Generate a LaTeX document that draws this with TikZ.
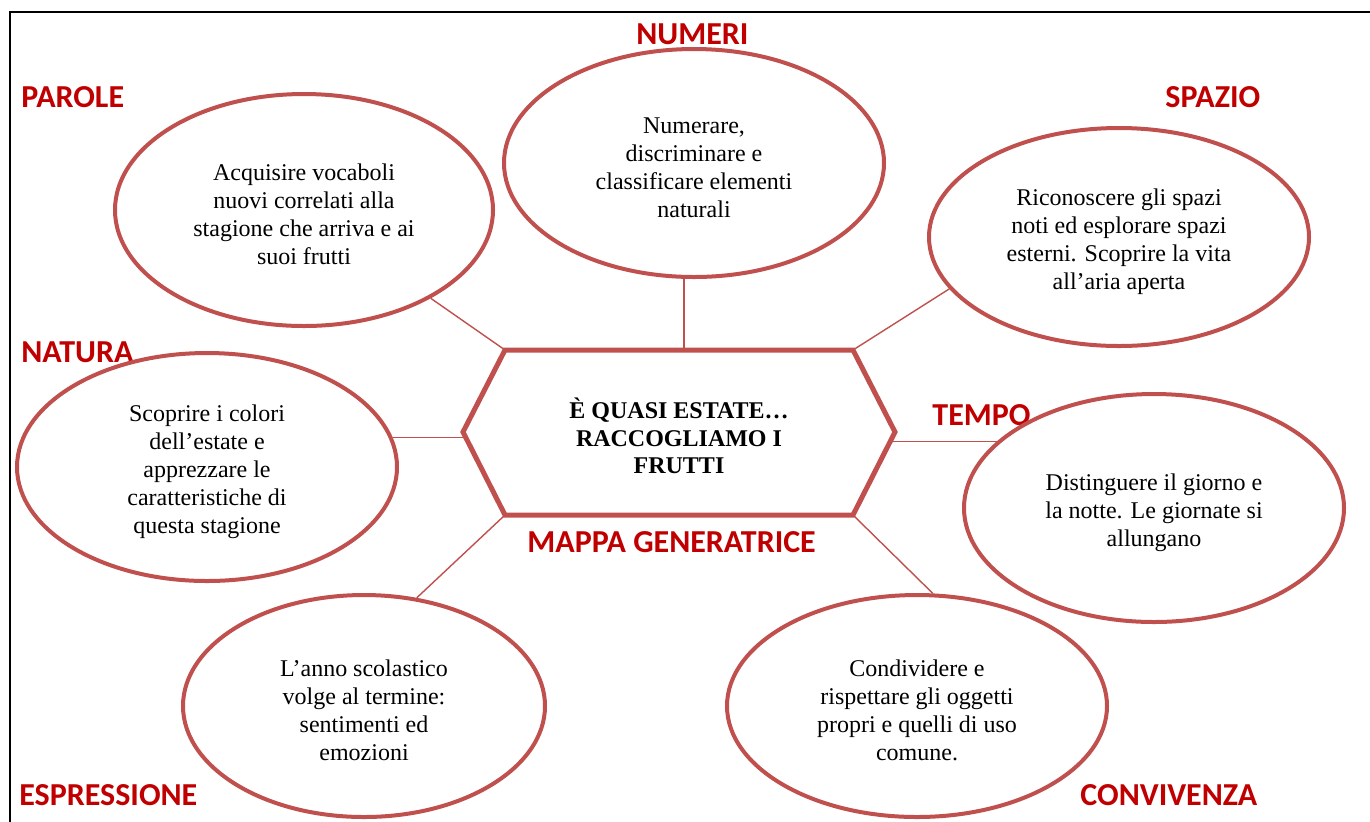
\documentclass[tikz,border=0pt]{standalone}
\usepackage{fontspec}
\setmainfont{Liberation Serif}
\newfontfamily\labelfont{Carlito}
\usetikzlibrary{shapes.geometric}
\definecolor{accent}{HTML}{C0504D}
\definecolor{labelred}{HTML}{C00000}

\begin{document}
\begin{tikzpicture}[x = 0.5pt, y = -0.5pt]
\tikzstyle{BubbleStyle}=[shape = ellipse,
                         draw = accent,
                         line width = 2pt,
                         inner sep = 0pt,
                         align = center,
                         font = \fontsize{12}{14}\selectfont]
\tikzstyle{LabelStyle}=[anchor = base west,
                        inner sep = 0pt,
                        text = labelred,
                        font = \labelfont\bfseries\fontsize{16}{18}\selectfont]
\tikzstyle{EdgeStyle}=[draw = accent, line width = 0.7pt]
\useasboundingbox (0,0) rectangle (1370,821);
\draw[line width = 1pt] (1400,12) -- (10,12) -- (10,850);
\node[LabelStyle] (t0) at (21,107) {PAROLE};
\node[LabelStyle] (t1) at (636,44) {NUMERI};
\node[LabelStyle] (t2) at (1165,107) {SPAZIO};
\node[LabelStyle] (t3) at (21,362) {NATURA};
\node[LabelStyle] (t4) at (932,425) {TEMPO};
\node[LabelStyle] (t5) at (19,805) {ESPRESSIONE};
\node[LabelStyle] (t6) at (1080,805) {CONVIVENZA};
\node[LabelStyle] (t7) at (527,552) {MAPPA GENERATRICE};
\node[BubbleStyle, minimum width = 189pt, minimum height = 116pt] (v0) at (304,210) {\rule{0pt}{13pt}Acquisire vocaboli\\nuovi correlati alla\\stagione che arriva e ai\\suoi frutti};
\node[BubbleStyle, minimum width = 190pt, minimum height = 114pt] (v1) at (694,163) {\rule{0pt}{13pt}Numerare,\\discriminare e\\classificare elementi\\naturali};
\node[BubbleStyle, minimum width = 190pt, minimum height = 109pt] (v2) at (1119,237) {\rule{0pt}{13pt}Riconoscere gli spazi\\noti ed esplorare spazi\\esterni. Scoprire la vita\\all’aria aperta};
\node[BubbleStyle, minimum width = 190pt, minimum height = 114pt] (v3) at (207,467) {\rule{0pt}{13pt}Scoprire i colori\\dell’estate e\\apprezzare le\\caratteristiche di\\questa stagione};
\node[BubbleStyle, minimum width = 190pt, minimum height = 114pt] (v4) at (1154,508) {\rule{0pt}{13pt}Distinguere il giorno e\\la notte. Le giornate si\\allungano};
\node[BubbleStyle, minimum width = 181pt, minimum height = 111pt] (v5) at (364,706) {\rule{0pt}{13pt}L’anno scolastico\\volge al termine:\\sentimenti ed\\emozioni};
\node[BubbleStyle, minimum width = 190pt, minimum height = 111pt] (v6) at (917,706) {\rule{0pt}{13pt}Condividere e\\rispettare gli oggetti\\propri e quelli di uso\\comune.};
\coordinate (h1) at (505,350);
\coordinate (h2) at (853,350);
\coordinate (h3) at (895,432);
\coordinate (h4) at (853,515);
\coordinate (h5) at (505,515);
\coordinate (h6) at (463,432);
\coordinate (ht) at (684,350);
\coordinate (hl) at (466,438);
\coordinate (hr) at (891,442);
\draw[draw = accent, line width = 2.5pt, line join = miter] (h1) -- (h2) -- (h3) -- (h4) -- (h5) -- (h6) -- cycle;
\node[align = center, inner sep = 0pt, font = \bfseries\fontsize{12}{13.8}\selectfont] (c) at (679,436) {È QUASI ESTATE…\\RACCOGLIAMO I\\FRUTTI};
\draw[EdgeStyle] (v0) -- (h1);
\draw[EdgeStyle] (ht) -- (ht |- v1.south);
\draw[EdgeStyle] (v2.197) -- (h2);
\draw[EdgeStyle] (v3.9) -- (v3.9 -| hl);
\draw[EdgeStyle] (v4.157) -- (v4.157 -| hr);
\draw[EdgeStyle] (v5.64) -- (h5);
\draw[EdgeStyle] (v6.82) -- (h4);
\end{tikzpicture}
\end{document}
